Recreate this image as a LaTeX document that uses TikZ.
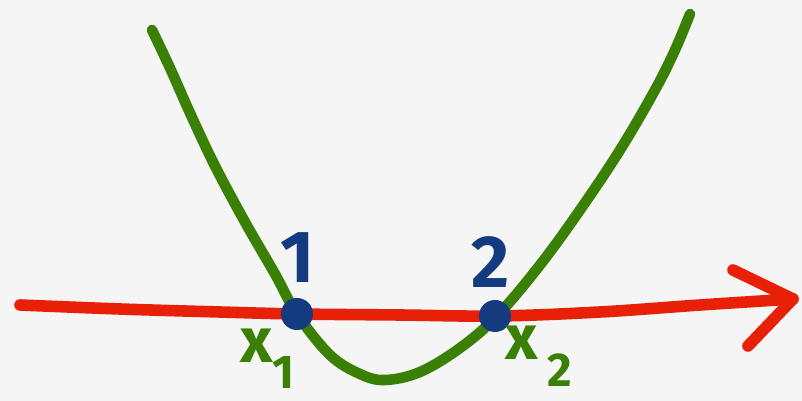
\documentclass[tikz,border=0pt]{standalone}
\usepackage{fontspec}
\setmainfont{Fira Sans}
\usepackage{tikz}
\definecolor{grasgruen}{RGB}{58,128,4}
\definecolor{achsenrot}{RGB}{232,32,8}
\definecolor{punktblau}{RGB}{20,58,128}
\definecolor{papier}{RGB}{245,245,245}

\begin{document}
\begin{tikzpicture}[x=0.02cm, y=-0.02cm,
			curve_style/.style={line width=6pt, grasgruen, line cap=round, line join=round},
			axis_style/.style={line width=6.6pt, achsenrot, line cap=round, line join=round},
			dot_style/.style={circle, fill=punktblau, minimum size=0.64cm, inner sep=0pt},
			num_style/.style={punktblau, font=\fontsize{42}{42}\selectfont\bfseries, inner sep=0pt},
			xvar_style/.style={grasgruen, font=\fontsize{36}{36}\selectfont\bfseries, inner sep=0pt},
			sub_style/.style={grasgruen, font=\fontsize{27}{27}\selectfont\bfseries, inner sep=0pt}]
			
			\fill[papier] (0,0) rectangle (802,401);
			\useasboundingbox (0,0) rectangle (802,401);
			
			% axis
			\coordinate (a0) at (20,305);
			\coordinate (tip) at (793,299);
			\coordinate (bar1) at (733,270);
			\coordinate (bar2) at (748,346);
			\draw[axis_style] plot[smooth, tension=0.6] coordinates {(20,305) (120,309) (220,312) (297,314) (400,315) (497,316) (600,312) (700,305) (793,299)};
			\draw[axis_style] (bar1) -- (tip) -- (bar2);
			
			% parabola
			\draw[curve_style] plot[smooth, tension=0.6] coordinates {(152,30) (170,68) (190,113) (215,166) (245,222) (275,274) (297,314) (330,355) (360,374) (385,380) (420,372) (460,348) (497,316) (540,265) (580,210) (620,150) (655,90) (675,50) (690,14)};
			
			% zeros
			\foreach \x/\y/\n in {297/314/1,495/316/2}{
				\node[dot_style] (p\n) at (\x,\y){};}
			\node[num_style] (n1) at (298,258) {1};
			\node[num_style] (n2) at (491,262) {2};
			
			\node[xvar_style] (x1) at (257,346) {x};
			\node[sub_style] (s1) at (284,372) {1};
			\node[xvar_style] (x2) at (522,343) {x};
			\node[sub_style] (s2) at (560,370) {2};
		\end{tikzpicture}
\end{document}
